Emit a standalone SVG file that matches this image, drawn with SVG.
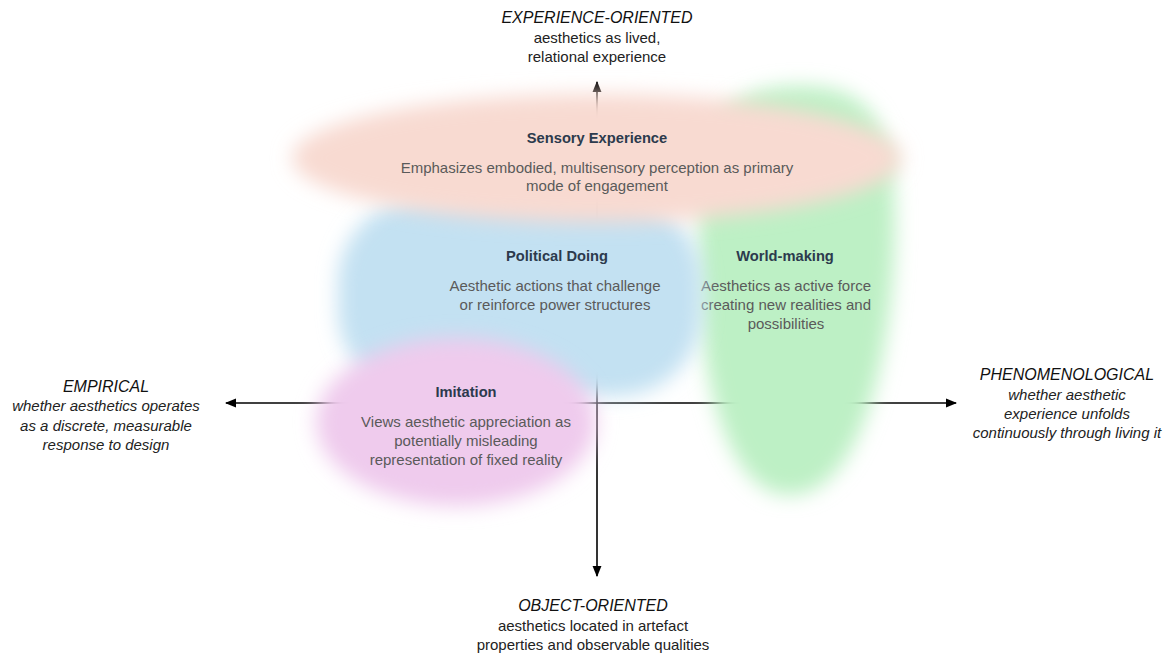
<svg xmlns="http://www.w3.org/2000/svg" width="1173" height="657" viewBox="0 0 1173 657">
<defs>
<style>
.ax{stroke:#000;stroke-width:1.6;fill:none}
.pole{font-family:"Liberation Sans",Arial,sans-serif;font-style:italic;font-size:16px;fill:#111;text-anchor:middle}
.poled{font-family:"Liberation Sans",Arial,sans-serif;font-size:15px;fill:#222;text-anchor:middle}
.poledi{font-family:"Liberation Sans",Arial,sans-serif;font-style:italic;font-size:15px;fill:#222;text-anchor:middle}
.h{font-family:"Liberation Sans",Arial,sans-serif;font-weight:bold;font-size:14.7px;fill:#2c3a4d;text-anchor:middle}
.b{font-family:"Liberation Sans",Arial,sans-serif;font-size:15px;fill:#5a5a5a;text-anchor:middle}
</style>
<filter id="blur" x="-30%" y="-30%" width="160%" height="160%">
<feGaussianBlur stdDeviation="10"/>
</filter>
<marker id="arr" viewBox="0 0 10 10" refX="9" refY="5" markerWidth="7" markerHeight="7" orient="auto-start-reverse">
<path d="M0,1 L10,5 L0,9 z" fill="#000"/>
</marker>
</defs>
<rect width="1173" height="657" fill="#fff"/>
<g id="connectors">
<line class="ax" x1="226" y1="403" x2="956" y2="403" marker-start="url(#arr)" marker-end="url(#arr)"/>
<line class="ax" x1="597" y1="82" x2="597" y2="576" marker-start="url(#arr)" marker-end="url(#arr)"/>
</g>
<g id="world-making">
<path d="M700,200 C700,110 740,86 800,86 C868,86 895,120 895,220 C895,330 868,495 790,495 C715,495 690,330 700,200 Z" fill="#bdf0c5" filter="url(#blur)"/>
<text class="h" x="785" y="261">World-making</text>
<text class="b" x="786" y="291">Aesthetics as active force</text>
<text class="b" x="786" y="310">creating new realities and</text>
<text class="b" x="786" y="329">possibilities</text>
</g>
<g id="political-doing">
<rect x="338" y="198" width="364" height="198" rx="85" fill="#c3e1f2" filter="url(#blur)"/>
<text class="h" x="557" y="261">Political Doing</text>
<text class="b" x="555" y="291">Aesthetic actions that challenge</text>
<text class="b" x="555" y="310">or reinforce power structures</text>
</g>
<g id="imitation">
<ellipse cx="456" cy="422" rx="140" ry="84" fill="#efcbed" filter="url(#blur)"/>
<text class="h" x="466" y="397">Imitation</text>
<text class="b" x="466" y="427">Views aesthetic appreciation as</text>
<text class="b" x="466" y="446">potentially misleading</text>
<text class="b" x="466" y="465">representation of fixed reality</text>
</g>
<g id="sensory-experience">
<ellipse cx="597" cy="158" rx="305" ry="64" fill="#f8dad1" filter="url(#blur)"/>
<text class="h" x="597" y="143">Sensory Experience</text>
<text class="b" x="597" y="173">Emphasizes embodied, multisensory perception as primary</text>
<text class="b" x="597" y="191">mode of engagement</text>
</g>
<g id="experience-oriented">
<text class="pole" x="597" y="23">EXPERIENCE-ORIENTED</text>
<text class="poled" x="597" y="43">aesthetics as lived,</text>
<text class="poled" x="597" y="62">relational experience</text>
</g>
<g id="object-oriented">
<text class="pole" x="593" y="611">OBJECT-ORIENTED</text>
<text class="poled" x="593" y="631">aesthetics located in artefact</text>
<text class="poled" x="593" y="650">properties and observable qualities</text>
</g>
<g id="empirical">
<text class="pole" x="106" y="392">EMPIRICAL</text>
<text class="poledi" x="106" y="411">whether aesthetics operates</text>
<text class="poledi" x="106" y="431">as a discrete, measurable</text>
<text class="poledi" x="106" y="450">response to design</text>
</g>
<g id="phenomenological">
<text class="pole" x="1067" y="380">PHENOMENOLOGICAL</text>
<text class="poledi" x="1067" y="400">whether aesthetic</text>
<text class="poledi" x="1067" y="419">experience unfolds</text>
<text class="poledi" x="1067" y="438">continuously through living it</text>
</g>
</svg>
